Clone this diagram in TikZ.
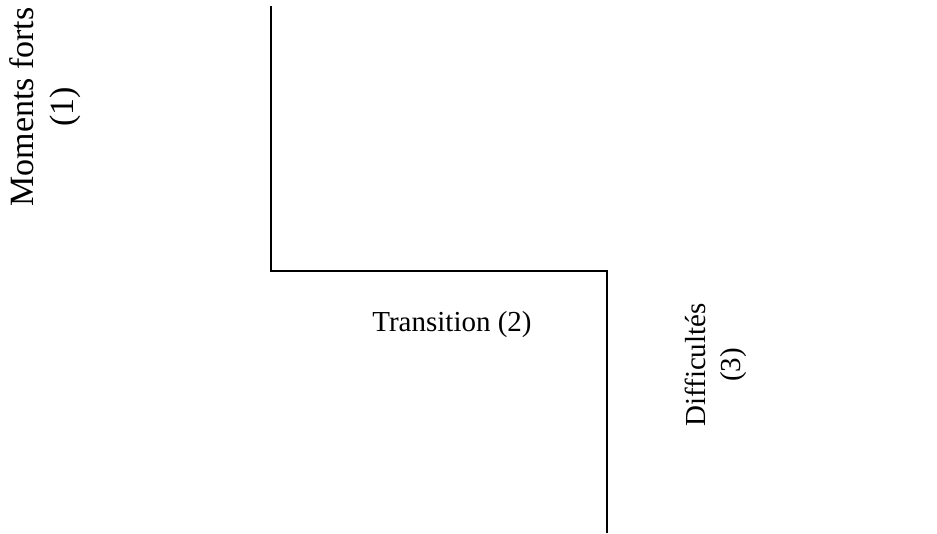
\documentclass[tikz,border=0pt]{standalone}
\usepackage{fontspec}
\setmainfont{Liberation Serif}
\begin{document}
\begin{tikzpicture}[x=1pt,y=-1pt,
  lbl/.style={font=\fontsize{29}{35}\selectfont, inner sep=0pt, align=center},
  biglbl/.style={font=\fontsize{34}{40}\selectfont, inner sep=0pt, align=center},
  stepline/.style={line width=1.6pt}]
\useasboundingbox (0,0) rectangle (937,533);
\coordinate (top) at (271,6);
\coordinate (c1) at (271,271);
\coordinate (c2) at (607,271);
\coordinate (bot) at (607,533);
\draw[stepline] (top) -- (c1) -- (c2) -- (bot);
\node[biglbl, rotate=90] (m) at (45,107) {Moments forts\\(1)};
\node[lbl] (t) at (452,325) {Transition (2)};
\node[lbl, rotate=90] (d) at (716,365) {Difficultés\\(3)};
\end{tikzpicture}
\end{document}
